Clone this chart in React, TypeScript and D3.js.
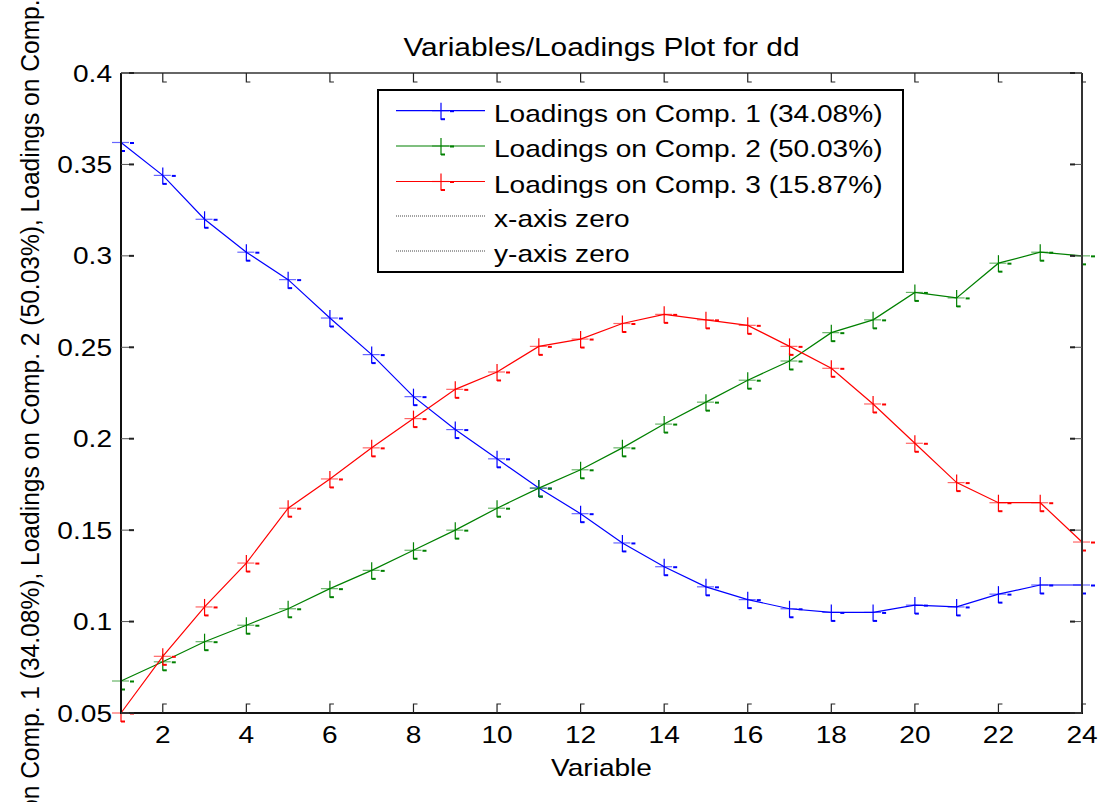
import React from "react";
import * as d3 from "d3";

const variables = [1, 2, 3, 4, 5, 6, 7, 8, 9, 10, 11, 12, 13, 14, 15, 16, 17, 18, 19, 20, 21, 22, 23, 24];
const comp1 = [0.362, 0.344, 0.320, 0.302, 0.287, 0.266, 0.246, 0.223, 0.205, 0.189, 0.173, 0.159, 0.143, 0.130, 0.119, 0.112, 0.107, 0.105, 0.105, 0.109, 0.108, 0.115, 0.120, 0.120];
const comp2 = [0.0675, 0.078, 0.089, 0.098, 0.107, 0.118, 0.128, 0.139, 0.150, 0.162, 0.173, 0.183, 0.195, 0.208, 0.220, 0.232, 0.2425, 0.258, 0.265, 0.280, 0.277, 0.296, 0.302, 0.300];
const comp3 = [0.050, 0.081, 0.108, 0.132, 0.162, 0.178, 0.195, 0.211, 0.227, 0.2365, 0.2505, 0.2545, 0.263, 0.268, 0.265, 0.262, 0.2505, 0.2385, 0.219, 0.1975, 0.176, 0.165, 0.165, 0.1435];
const seriesNames = ["Loadings on Comp. 1 (34.08%)", "Loadings on Comp. 2 (50.03%)", "Loadings on Comp. 3 (15.87%)"];
const seriesColors = ["#0000ff", "#008000", "#ff0000"];
const zeroNames = ["x-axis zero", "y-axis zero"];
const xTicks = [2, 4, 6, 8, 10, 12, 14, 16, 18, 20, 22, 24];
const yTicks = [0.05, 0.1, 0.15, 0.2, 0.25, 0.3, 0.35, 0.4];
const yTickLabels = ["0.05", "0.1", "0.15", "0.2", "0.25", "0.3", "0.35", "0.4"];
const title = "Variables/Loadings Plot for dd";
const xLabel = "Variable";
const yLabel = "Loadings on Comp. 1 (34.08%), Loadings on Comp. 2 (50.03%), Loadings on Comp. 3 (15.87%)";

const W = 1101;
const H = 802;
const L = 121, R = 1082, T = 73, B = 713;
const FONT = "'Liberation Sans', Arial, Helvetica, sans-serif";
const FS = 24;
const SX = 1.17;

function Marker({ x, y, color }: { x: number; y: number; color: string }) {
  return (
    <g>
      <path d={`M${x - 9},${y} H${x + 8}`} stroke={color} strokeWidth={1.2} strokeOpacity={0.6} fill="none" />
      <path d={`M${x},${y - 8} V${y + 9}`} stroke={color} strokeWidth={1.2} fill="none" />
      <path d={`M${x},${y + 8.5} H${x + 4}`} stroke={color} strokeWidth={2} fill="none" />
      <path d={`M${x + 9},${y + 0.5} H${x + 13}`} stroke={color} strokeWidth={2} fill="none" />
    </g>
  );
}

function SText({ x, y, anchor, children, size = FS, sx = SX }: any) {
  return (
    <text
      transform={`translate(${x},${y}) scale(${sx},1)`}
      textAnchor={anchor}
      fontFamily={FONT}
      fontSize={size}
      fill="#000"
    >
      {children}
    </text>
  );
}

export default function App() {
  const x = d3.scaleLinear().domain([1, 24]).range([L, R]);
  const y = d3.scaleLinear().domain([0.05, 0.4]).range([B, T]);
  const line = d3
    .line<number>()
    .x((_, i) => x(variables[i]))
    .y((d) => y(d));
  const series = [comp1, comp2, comp3];

  const legX = 378, legY = 90, legW = 525, legH = 182;
  const rowY = [110.7, 146, 181.5, 216, 251];

  return (
    <svg
      width={W}
      height={H}
      style={{ position: "fixed", left: 0, top: 0, background: "#fff" }}
    >
      <rect x={0} y={0} width={W} height={H} fill="#fff" />
      {/* title */}
      <SText x={(L + R) / 2} y={56} anchor="middle" size={25} sx={1.195}>{title}</SText>

      {/* data lines */}
      {series.map((s, si) => (
        <g key={si}>
          <path d={line(s) || ""} fill="none" stroke={seriesColors[si]} strokeWidth={1.2} />
          {s.map((v, i) => (
            <Marker key={i} x={x(variables[i])} y={y(v)} color={seriesColors[si]} />
          ))}
        </g>
      ))}

      {/* axes box */}
      <line x1={L} y1={T} x2={R} y2={T} stroke="#333" strokeWidth={1.5} />
      <line x1={R} y1={T} x2={R} y2={B} stroke="#333" strokeWidth={2} />
      <line x1={L} y1={T} x2={L} y2={B + 1} stroke="#111" strokeWidth={2} />
      <line x1={L - 1} y1={B} x2={R + 1} y2={B} stroke="#111" strokeWidth={2} />

      {/* x ticks */}
      {xTicks.map((t) => (
        <g key={t}>
          <path d={`M${x(t)},${B} V${B - 9} H${x(t) + 4}`} stroke="#222" strokeWidth={1.2} fill="none" />
          <path d={`M${x(t)},${T} V${T + 9} H${x(t) + 4}`} stroke="#222" strokeWidth={1.2} fill="none" />
          <SText x={x(t)} y={743} anchor="middle">{t}</SText>
        </g>
      ))}
      {/* y ticks */}
      {yTicks.map((t, i) => (
        <g key={t}>
          <path d={`M${L},${y(t)} H${L + 9}`} stroke="#555" strokeWidth={1} fill="none" />
          <path d={`M${L + 8},${y(t)} H${L + 13}`} stroke="#222" strokeWidth={2} fill="none" />
          <path d={`M${R},${y(t)} H${R - 9}`} stroke="#555" strokeWidth={1} fill="none" />
          <path d={`M${R - 7},${y(t)} H${R - 12}`} stroke="#222" strokeWidth={2} fill="none" />
          <SText x={112} y={y(t) + 8.5} anchor="end">{yTickLabels[i]}</SText>
        </g>
      ))}

      {/* axis labels */}
      <SText x={(L + R) / 2} y={776} anchor="middle">{xLabel}</SText>
      <text
        transform={`translate(39,${(T + B) / 2 + 3}) rotate(-90) scale(0.945,1)`}
        textAnchor="middle"
        fontFamily={FONT}
        fontSize={26}
        fill="#000"
      >
        {yLabel}
      </text>

      {/* legend */}
      <rect x={legX} y={legY} width={legW} height={legH} fill="#fff" stroke="#000" strokeWidth={2} />
      {seriesNames.map((n, i) => (
        <g key={n}>
          <line x1={396} x2={485} y1={rowY[i]} y2={rowY[i]} stroke={seriesColors[i]} strokeWidth={1.2} />
          <Marker x={441} y={rowY[i]} color={seriesColors[i]} />
          <SText x={494} y={rowY[i] + 11} anchor="start">{n}</SText>
        </g>
      ))}
      {zeroNames.map((n, i) => (
        <g key={n}>
          <line x1={396} x2={485} y1={rowY[3 + i]} y2={rowY[3 + i]} stroke="#444" strokeWidth={1} strokeDasharray="1,1" />
          <SText x={494} y={rowY[3 + i] + 11} anchor="start">{n}</SText>
        </g>
      ))}
    </svg>
  );
}
